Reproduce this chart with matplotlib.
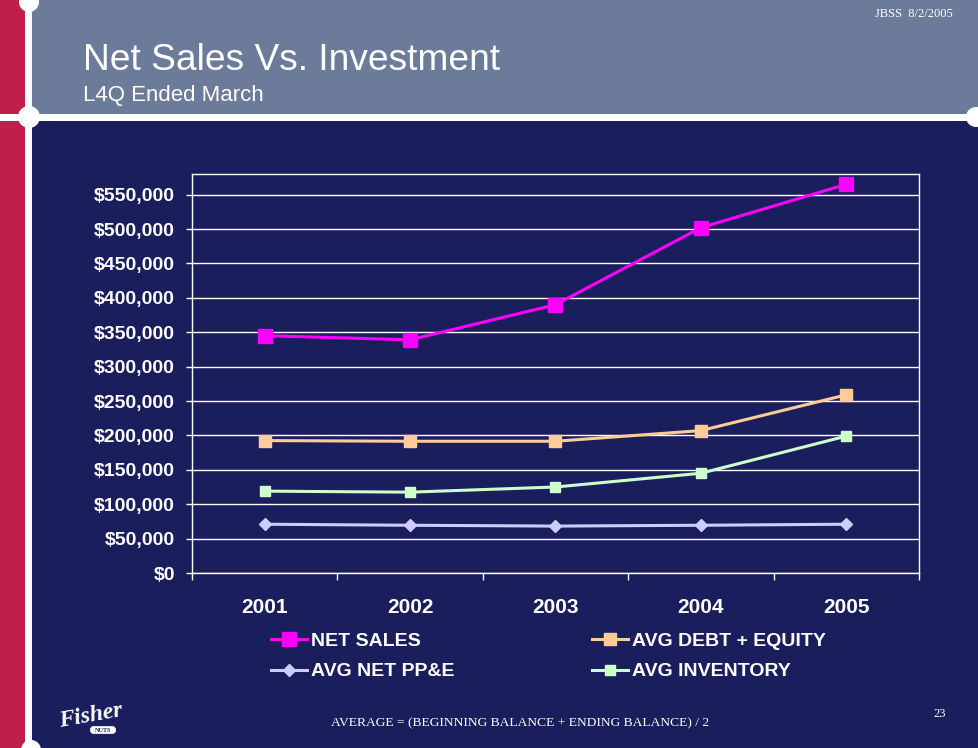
import matplotlib
matplotlib.use('Agg')
import matplotlib.pyplot as pl
from matplotlib.patches import Rectangle, Circle, FancyBboxPatch
from matplotlib.ticker import FuncFormatter, FixedLocator

years = ['2001', '2002', '2003', '2004', '2005']
net_sales = [345000, 339000, 390000, 502000, 565000]
avg_debt_equity = [192500, 191500, 191500, 207000, 259000]
avg_net_ppe = [70900, 69400, 68200, 69400, 70900]
avg_inventory = [119000, 117500, 125000, 145000, 199000]

navy = '#1b1e5c'
header = '#6c7b9a'
red = '#c11f4b'

pl.rcParams['font.family'] = ['Liberation Sans', 'DejaVu Sans']

fig = pl.figure(figsize=(9.79, 7.48), dpi=100)
fig.patch.set_facecolor(navy)

# slide background, drawn in pixel coords
bg = fig.add_axes([0, 0, 1, 1], zorder=0)
bg.set_xlim(0, 979)
bg.set_ylim(748, 0)
bg.axis('off')
bg.add_patch(Rectangle((0, 0), 25, 748, color=red, lw=0))
bg.add_patch(Rectangle((32, 0), 947, 114, color=header, lw=0))
bg.add_patch(Rectangle((25, 0), 7, 748, color='white', lw=0))
bg.add_patch(Rectangle((0, 114), 979, 7, color='white', lw=0))
for cx, cy, r in [(29, 2, 10), (29, 117, 11), (976, 117, 10), (31, 750, 10)]:
    bg.add_patch(Circle((cx, cy), r, color='white', lw=0))

bg.text(83, 70, 'Net Sales Vs. Investment', color='white', fontsize=26.7)
bg.text(83, 101, 'L4Q Ended March', color='white', fontsize=16)
bg.text(953, 14, 'JBSS  8/2/2005', color='white', fontsize=9,
        family='Liberation Serif', ha='right', va='center')
bg.text(520, 723, 'AVERAGE = (BEGINNING BALANCE + ENDING BALANCE) / 2',
        color='white', fontsize=9.7, family='Liberation Serif',
        ha='center', va='center')
bg.text(940, 714, '23', color='white', fontsize=9,
        family='Liberation Serif', ha='center', va='center')

# logo
bg.text(91, 716, 'Fisher', color='white', fontsize=17, family='Liberation Serif',
        weight='bold', style='italic', rotation=10, ha='center', va='center')
bg.add_patch(FancyBboxPatch((91, 727), 24, 6, boxstyle='round,pad=0.5,rounding_size=3',
                            fc='white', ec='white', lw=0.5))
bg.text(103, 730.5, 'NUTS', color=navy, fontsize=4.5, weight='bold',
        ha='center', va='center', family='Liberation Serif')

# chart
ax = fig.add_axes([192/979., 1-573/748., 727/979., 399/748.], zorder=1)
ax.set_facecolor('none')

x = range(len(years))
ax.plot(x, avg_net_ppe, color='#ccccff', lw=2.2, marker='D', ms=6,
        mec='#ccccff', label='AVG NET PP&E', zorder=3)
ax.plot(x, avg_inventory, color='#ccffcc', lw=2.2, marker='s', ms=7.7,
        mec='#ccffcc', label='AVG INVENTORY', zorder=4)
ax.plot(x, avg_debt_equity, color='#ffcc99', lw=2.2, marker='s', ms=8.5,
        mec='#ffcc99', label='AVG DEBT + EQUITY', zorder=5)
ax.plot(x, net_sales, color='#ff00ff', lw=2.2, marker='s', ms=9.4,
        mec='#ff00ff', label='NET SALES', zorder=6)

ax.set_xlim(-0.5, 4.5)
ax.set_ylim(0, 580000)
ax.set_yticks(range(0, 550001, 50000))
ax.yaxis.set_major_formatter(FuncFormatter(lambda v, p: '${:,.0f}'.format(v)))
ax.grid(axis='y', color='white', lw=1.0)
ax.set_axisbelow(True)

ax.set_xticks(list(x))
ax.set_xticklabels(years)
ax.xaxis.set_minor_locator(FixedLocator([-0.5, 0.5, 1.5, 2.5, 3.5, 4.5]))
ax.tick_params(axis='x', which='major', length=0, pad=18, labelsize=15,
               labelcolor='white')
ax.tick_params(axis='x', which='minor', length=5, width=1, color='white',
               direction='out')
ax.tick_params(axis='y', length=4.3, width=1, color='white', pad=8,
               labelsize=14, labelcolor='white')
for lab in ax.get_xticklabels() + ax.get_yticklabels():
    lab.set_fontweight('bold')

for s in ax.spines.values():
    s.set_color('white')
    s.set_linewidth(1.0)

h, l = ax.get_legend_handles_labels()
order = [3, 0, 2, 1]
leg = fig.legend([h[i] for i in order], [l[i] for i in order], ncol=2,
                 loc='upper left', bbox_to_anchor=(270.7/979., 1-632/748.),
                 frameon=False, borderpad=0, borderaxespad=0,
                 handlelength=1.85, handletextpad=0.2, columnspacing=7.1,
                 labelspacing=0.68, prop={'size': 14, 'weight': 'bold'})
for t in leg.get_texts():
    t.set_color('white')

pl.savefig('out.png', dpi=100, facecolor=fig.get_facecolor())
